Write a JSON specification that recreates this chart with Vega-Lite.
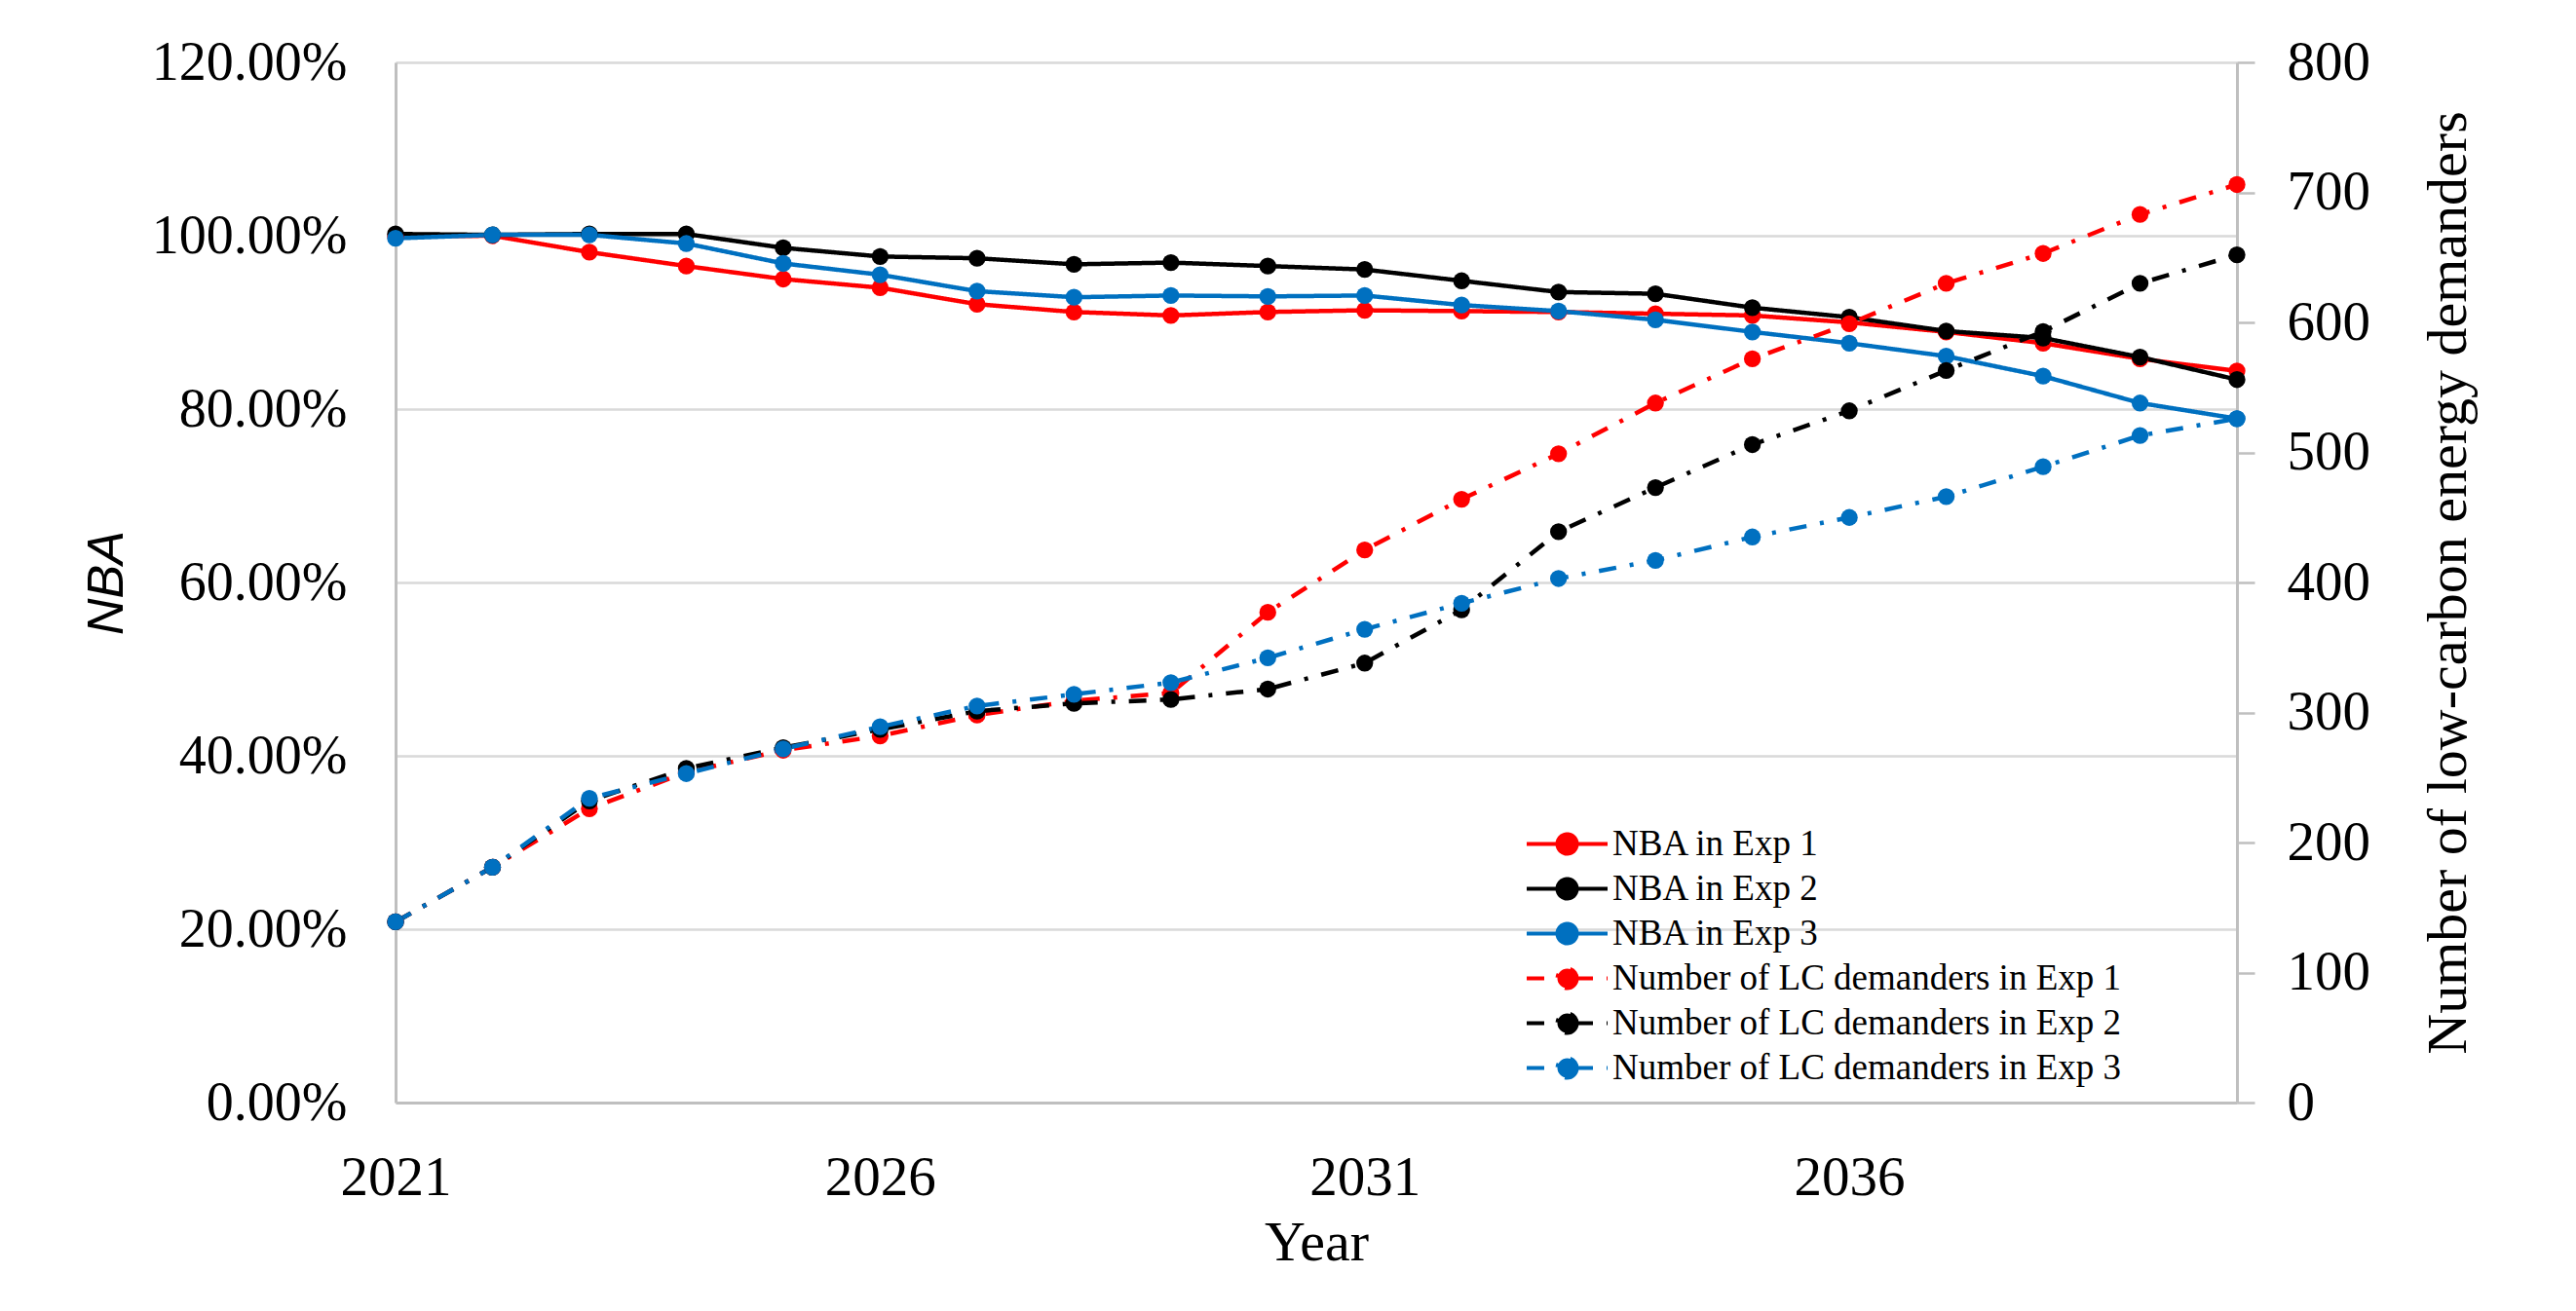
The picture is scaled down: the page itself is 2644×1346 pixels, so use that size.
{
  "$schema": "https://vega.github.io/schema/vega-lite/v6.json",
  "autosize": {"type": "none"},
  "padding": {"left": 406, "top": 64, "right": 348, "bottom": 214},
  "width": 1890,
  "height": 1068,
  "background": "white",
  "config": {
    "view": {"stroke": null},
    "font": "Liberation Serif",
    "axis": {"labelColor": "black", "titleColor": "black", "titleFontWeight": "normal"}
  },
  "data": {
    "values": [
      {"Year": 2021, "Series": "NBA in Exp 1", "Kind": "NBA", "Value": 0.999},
      {"Year": 2022, "Series": "NBA in Exp 1", "Kind": "NBA", "Value": 1.000},
      {"Year": 2023, "Series": "NBA in Exp 1", "Kind": "NBA", "Value": 0.981},
      {"Year": 2024, "Series": "NBA in Exp 1", "Kind": "NBA", "Value": 0.965},
      {"Year": 2025, "Series": "NBA in Exp 1", "Kind": "NBA", "Value": 0.950},
      {"Year": 2026, "Series": "NBA in Exp 1", "Kind": "NBA", "Value": 0.940},
      {"Year": 2027, "Series": "NBA in Exp 1", "Kind": "NBA", "Value": 0.921},
      {"Year": 2028, "Series": "NBA in Exp 1", "Kind": "NBA", "Value": 0.912},
      {"Year": 2029, "Series": "NBA in Exp 1", "Kind": "NBA", "Value": 0.908},
      {"Year": 2030, "Series": "NBA in Exp 1", "Kind": "NBA", "Value": 0.912},
      {"Year": 2031, "Series": "NBA in Exp 1", "Kind": "NBA", "Value": 0.914},
      {"Year": 2032, "Series": "NBA in Exp 1", "Kind": "NBA", "Value": 0.913},
      {"Year": 2033, "Series": "NBA in Exp 1", "Kind": "NBA", "Value": 0.912},
      {"Year": 2034, "Series": "NBA in Exp 1", "Kind": "NBA", "Value": 0.910},
      {"Year": 2035, "Series": "NBA in Exp 1", "Kind": "NBA", "Value": 0.908},
      {"Year": 2036, "Series": "NBA in Exp 1", "Kind": "NBA", "Value": 0.900},
      {"Year": 2037, "Series": "NBA in Exp 1", "Kind": "NBA", "Value": 0.889},
      {"Year": 2038, "Series": "NBA in Exp 1", "Kind": "NBA", "Value": 0.876},
      {"Year": 2039, "Series": "NBA in Exp 1", "Kind": "NBA", "Value": 0.858},
      {"Year": 2040, "Series": "NBA in Exp 1", "Kind": "NBA", "Value": 0.844},
      {"Year": 2021, "Series": "NBA in Exp 2", "Kind": "NBA", "Value": 1.002},
      {"Year": 2022, "Series": "NBA in Exp 2", "Kind": "NBA", "Value": 1.001},
      {"Year": 2023, "Series": "NBA in Exp 2", "Kind": "NBA", "Value": 1.002},
      {"Year": 2024, "Series": "NBA in Exp 2", "Kind": "NBA", "Value": 1.002},
      {"Year": 2025, "Series": "NBA in Exp 2", "Kind": "NBA", "Value": 0.986},
      {"Year": 2026, "Series": "NBA in Exp 2", "Kind": "NBA", "Value": 0.976},
      {"Year": 2027, "Series": "NBA in Exp 2", "Kind": "NBA", "Value": 0.974},
      {"Year": 2028, "Series": "NBA in Exp 2", "Kind": "NBA", "Value": 0.967},
      {"Year": 2029, "Series": "NBA in Exp 2", "Kind": "NBA", "Value": 0.969},
      {"Year": 2030, "Series": "NBA in Exp 2", "Kind": "NBA", "Value": 0.965},
      {"Year": 2031, "Series": "NBA in Exp 2", "Kind": "NBA", "Value": 0.961},
      {"Year": 2032, "Series": "NBA in Exp 2", "Kind": "NBA", "Value": 0.948},
      {"Year": 2033, "Series": "NBA in Exp 2", "Kind": "NBA", "Value": 0.935},
      {"Year": 2034, "Series": "NBA in Exp 2", "Kind": "NBA", "Value": 0.933},
      {"Year": 2035, "Series": "NBA in Exp 2", "Kind": "NBA", "Value": 0.917},
      {"Year": 2036, "Series": "NBA in Exp 2", "Kind": "NBA", "Value": 0.906},
      {"Year": 2037, "Series": "NBA in Exp 2", "Kind": "NBA", "Value": 0.890},
      {"Year": 2038, "Series": "NBA in Exp 2", "Kind": "NBA", "Value": 0.882},
      {"Year": 2039, "Series": "NBA in Exp 2", "Kind": "NBA", "Value": 0.860},
      {"Year": 2040, "Series": "NBA in Exp 2", "Kind": "NBA", "Value": 0.834},
      {"Year": 2021, "Series": "NBA in Exp 3", "Kind": "NBA", "Value": 0.997},
      {"Year": 2022, "Series": "NBA in Exp 3", "Kind": "NBA", "Value": 1.001},
      {"Year": 2023, "Series": "NBA in Exp 3", "Kind": "NBA", "Value": 1.001},
      {"Year": 2024, "Series": "NBA in Exp 3", "Kind": "NBA", "Value": 0.991},
      {"Year": 2025, "Series": "NBA in Exp 3", "Kind": "NBA", "Value": 0.968},
      {"Year": 2026, "Series": "NBA in Exp 3", "Kind": "NBA", "Value": 0.955},
      {"Year": 2027, "Series": "NBA in Exp 3", "Kind": "NBA", "Value": 0.936},
      {"Year": 2028, "Series": "NBA in Exp 3", "Kind": "NBA", "Value": 0.929},
      {"Year": 2029, "Series": "NBA in Exp 3", "Kind": "NBA", "Value": 0.931},
      {"Year": 2030, "Series": "NBA in Exp 3", "Kind": "NBA", "Value": 0.930},
      {"Year": 2031, "Series": "NBA in Exp 3", "Kind": "NBA", "Value": 0.931},
      {"Year": 2032, "Series": "NBA in Exp 3", "Kind": "NBA", "Value": 0.920},
      {"Year": 2033, "Series": "NBA in Exp 3", "Kind": "NBA", "Value": 0.913},
      {"Year": 2034, "Series": "NBA in Exp 3", "Kind": "NBA", "Value": 0.903},
      {"Year": 2035, "Series": "NBA in Exp 3", "Kind": "NBA", "Value": 0.889},
      {"Year": 2036, "Series": "NBA in Exp 3", "Kind": "NBA", "Value": 0.876},
      {"Year": 2037, "Series": "NBA in Exp 3", "Kind": "NBA", "Value": 0.861},
      {"Year": 2038, "Series": "NBA in Exp 3", "Kind": "NBA", "Value": 0.838},
      {"Year": 2039, "Series": "NBA in Exp 3", "Kind": "NBA", "Value": 0.807},
      {"Year": 2040, "Series": "NBA in Exp 3", "Kind": "NBA", "Value": 0.789},
      {"Year": 2021, "Series": "Number of LC demanders in Exp 1", "Kind": "LC", "Value": 139},
      {"Year": 2022, "Series": "Number of LC demanders in Exp 1", "Kind": "LC", "Value": 181},
      {"Year": 2023, "Series": "Number of LC demanders in Exp 1", "Kind": "LC", "Value": 226},
      {"Year": 2024, "Series": "Number of LC demanders in Exp 1", "Kind": "LC", "Value": 254},
      {"Year": 2025, "Series": "Number of LC demanders in Exp 1", "Kind": "LC", "Value": 271},
      {"Year": 2026, "Series": "Number of LC demanders in Exp 1", "Kind": "LC", "Value": 282},
      {"Year": 2027, "Series": "Number of LC demanders in Exp 1", "Kind": "LC", "Value": 298},
      {"Year": 2028, "Series": "Number of LC demanders in Exp 1", "Kind": "LC", "Value": 309},
      {"Year": 2029, "Series": "Number of LC demanders in Exp 1", "Kind": "LC", "Value": 315},
      {"Year": 2030, "Series": "Number of LC demanders in Exp 1", "Kind": "LC", "Value": 377},
      {"Year": 2031, "Series": "Number of LC demanders in Exp 1", "Kind": "LC", "Value": 425},
      {"Year": 2032, "Series": "Number of LC demanders in Exp 1", "Kind": "LC", "Value": 464},
      {"Year": 2033, "Series": "Number of LC demanders in Exp 1", "Kind": "LC", "Value": 499},
      {"Year": 2034, "Series": "Number of LC demanders in Exp 1", "Kind": "LC", "Value": 538},
      {"Year": 2035, "Series": "Number of LC demanders in Exp 1", "Kind": "LC", "Value": 572},
      {"Year": 2036, "Series": "Number of LC demanders in Exp 1", "Kind": "LC", "Value": 599},
      {"Year": 2037, "Series": "Number of LC demanders in Exp 1", "Kind": "LC", "Value": 630},
      {"Year": 2038, "Series": "Number of LC demanders in Exp 1", "Kind": "LC", "Value": 653},
      {"Year": 2039, "Series": "Number of LC demanders in Exp 1", "Kind": "LC", "Value": 683},
      {"Year": 2040, "Series": "Number of LC demanders in Exp 1", "Kind": "LC", "Value": 706},
      {"Year": 2021, "Series": "Number of LC demanders in Exp 2", "Kind": "LC", "Value": 139},
      {"Year": 2022, "Series": "Number of LC demanders in Exp 2", "Kind": "LC", "Value": 181},
      {"Year": 2023, "Series": "Number of LC demanders in Exp 2", "Kind": "LC", "Value": 232},
      {"Year": 2024, "Series": "Number of LC demanders in Exp 2", "Kind": "LC", "Value": 257},
      {"Year": 2025, "Series": "Number of LC demanders in Exp 2", "Kind": "LC", "Value": 273},
      {"Year": 2026, "Series": "Number of LC demanders in Exp 2", "Kind": "LC", "Value": 287},
      {"Year": 2027, "Series": "Number of LC demanders in Exp 2", "Kind": "LC", "Value": 301},
      {"Year": 2028, "Series": "Number of LC demanders in Exp 2", "Kind": "LC", "Value": 307},
      {"Year": 2029, "Series": "Number of LC demanders in Exp 2", "Kind": "LC", "Value": 310},
      {"Year": 2030, "Series": "Number of LC demanders in Exp 2", "Kind": "LC", "Value": 318},
      {"Year": 2031, "Series": "Number of LC demanders in Exp 2", "Kind": "LC", "Value": 338},
      {"Year": 2032, "Series": "Number of LC demanders in Exp 2", "Kind": "LC", "Value": 379},
      {"Year": 2033, "Series": "Number of LC demanders in Exp 2", "Kind": "LC", "Value": 439},
      {"Year": 2034, "Series": "Number of LC demanders in Exp 2", "Kind": "LC", "Value": 473},
      {"Year": 2035, "Series": "Number of LC demanders in Exp 2", "Kind": "LC", "Value": 506},
      {"Year": 2036, "Series": "Number of LC demanders in Exp 2", "Kind": "LC", "Value": 532},
      {"Year": 2037, "Series": "Number of LC demanders in Exp 2", "Kind": "LC", "Value": 563},
      {"Year": 2038, "Series": "Number of LC demanders in Exp 2", "Kind": "LC", "Value": 593},
      {"Year": 2039, "Series": "Number of LC demanders in Exp 2", "Kind": "LC", "Value": 630},
      {"Year": 2040, "Series": "Number of LC demanders in Exp 2", "Kind": "LC", "Value": 652},
      {"Year": 2021, "Series": "Number of LC demanders in Exp 3", "Kind": "LC", "Value": 139},
      {"Year": 2022, "Series": "Number of LC demanders in Exp 3", "Kind": "LC", "Value": 181},
      {"Year": 2023, "Series": "Number of LC demanders in Exp 3", "Kind": "LC", "Value": 234},
      {"Year": 2024, "Series": "Number of LC demanders in Exp 3", "Kind": "LC", "Value": 253},
      {"Year": 2025, "Series": "Number of LC demanders in Exp 3", "Kind": "LC", "Value": 272},
      {"Year": 2026, "Series": "Number of LC demanders in Exp 3", "Kind": "LC", "Value": 289},
      {"Year": 2027, "Series": "Number of LC demanders in Exp 3", "Kind": "LC", "Value": 305},
      {"Year": 2028, "Series": "Number of LC demanders in Exp 3", "Kind": "LC", "Value": 314},
      {"Year": 2029, "Series": "Number of LC demanders in Exp 3", "Kind": "LC", "Value": 323},
      {"Year": 2030, "Series": "Number of LC demanders in Exp 3", "Kind": "LC", "Value": 342},
      {"Year": 2031, "Series": "Number of LC demanders in Exp 3", "Kind": "LC", "Value": 364},
      {"Year": 2032, "Series": "Number of LC demanders in Exp 3", "Kind": "LC", "Value": 384},
      {"Year": 2033, "Series": "Number of LC demanders in Exp 3", "Kind": "LC", "Value": 403},
      {"Year": 2034, "Series": "Number of LC demanders in Exp 3", "Kind": "LC", "Value": 417},
      {"Year": 2035, "Series": "Number of LC demanders in Exp 3", "Kind": "LC", "Value": 435},
      {"Year": 2036, "Series": "Number of LC demanders in Exp 3", "Kind": "LC", "Value": 450},
      {"Year": 2037, "Series": "Number of LC demanders in Exp 3", "Kind": "LC", "Value": 466},
      {"Year": 2038, "Series": "Number of LC demanders in Exp 3", "Kind": "LC", "Value": 489},
      {"Year": 2039, "Series": "Number of LC demanders in Exp 3", "Kind": "LC", "Value": 513},
      {"Year": 2040, "Series": "Number of LC demanders in Exp 3", "Kind": "LC", "Value": 526}
    ]
  },
  "encoding": {
    "x": {
      "field": "Year",
      "type": "quantitative",
      "scale": {"domain": [2021, 2040], "nice": false, "zero": false},
      "axis": {
        "values": [2021, 2026, 2031, 2036],
        "format": "d",
        "grid": false,
        "ticks": false,
        "domainColor": "#BFBFBF",
        "domainWidth": 3,
        "labelFont": "Liberation Serif",
        "labelFontSize": 57,
        "labelPadding": 49,
        "labelFlush": false,
        "title": "Year",
        "titleFont": "Liberation Serif",
        "titleFontSize": 58,
        "titlePadding": 10
      }
    },
    "color": {
      "field": "Series",
      "type": "nominal",
      "scale": {
        "domain": ["NBA in Exp 1", "NBA in Exp 2", "NBA in Exp 3", "Number of LC demanders in Exp 1", "Number of LC demanders in Exp 2", "Number of LC demanders in Exp 3"],
        "range": ["#FF0000", "#000000", "#0070C0", "#FF0000", "#000000", "#0070C0"]
      },
      "legend": {
        "title": null,
        "orient": "none",
        "legendX": 1184,
        "legendY": 784,
        "padding": 0,
        "labelFont": "Liberation Serif",
        "labelFontSize": 37,
        "labelColor": "black",
        "labelLimit": 0,
        "labelOffset": 28,
        "rowPadding": 8,
        "symbolType": "M-4.15,0L4.15,0M1,0A1,1,0,1,1,-1,0A1,1,0,1,1,1,0Z",
        "symbolSize": 400,
        "symbolStrokeWidth": 4,
        "symbolOpacity": 1,
        "encode": {"symbols": {"update": {"fill": {"scale": "color", "field": "value"}, "opacity": {"value": 1}}}}
      }
    },
    "strokeDash": {
      "field": "Series",
      "type": "nominal",
      "scale": {
        "domain": ["NBA in Exp 1", "NBA in Exp 2", "NBA in Exp 3", "Number of LC demanders in Exp 1", "Number of LC demanders in Exp 2", "Number of LC demanders in Exp 3"],
        "range": [[1, 0], [1, 0], [1, 0], [18, 14, 4, 14], [18, 14, 4, 14], [18, 14, 4, 14]]
      },
      "legend": {
        "title": null,
        "orient": "none",
        "legendX": 1184,
        "legendY": 784,
        "padding": 0,
        "labelFont": "Liberation Serif",
        "labelFontSize": 37,
        "labelColor": "black",
        "labelLimit": 0,
        "labelOffset": 28,
        "rowPadding": 8,
        "symbolType": "M-4.15,0L4.15,0M1,0A1,1,0,1,1,-1,0A1,1,0,1,1,1,0Z",
        "symbolSize": 400,
        "symbolStrokeWidth": 4,
        "symbolOpacity": 1
      }
    }
  },
  "layer": [
    {
      "transform": [{"filter": "datum.Kind == 'NBA'"}],
      "mark": {"type": "line", "strokeWidth": 4.5, "point": {"filled": true, "size": 300, "opacity": 1}},
      "encoding": {
        "y": {
          "field": "Value",
          "type": "quantitative",
          "scale": {"domain": [0, 1.2], "nice": false},
          "axis": {
            "orient": "left",
            "values": [0, 0.2, 0.4, 0.6, 0.8, 1, 1.2],
            "format": ".2%",
            "grid": true,
            "gridColor": "#D9D9D9",
            "gridWidth": 2.5,
            "ticks": false,
            "domainColor": "#BFBFBF",
            "domainWidth": 3,
            "labelFont": "Liberation Serif",
            "labelFontSize": 56,
            "labelPadding": 50,
            "labelLimit": 0,
            "labelFlush": false,
            "title": "NBA",
            "titleFont": "Liberation Sans",
            "titleFontStyle": "italic",
            "titleFontSize": 52,
            "titlePadding": 70
          }
        }
      }
    },
    {
      "transform": [{"filter": "datum.Kind == 'LC'"}],
      "mark": {"type": "line", "strokeWidth": 4.5, "point": {"filled": true, "size": 300, "opacity": 1}},
      "encoding": {
        "y": {
          "field": "Value",
          "type": "quantitative",
          "scale": {"domain": [0, 800], "nice": false},
          "axis": {
            "orient": "right",
            "values": [0, 100, 200, 300, 400, 500, 600, 700, 800],
            "grid": false,
            "ticks": true,
            "tickSize": 18,
            "tickColor": "#BFBFBF",
            "tickWidth": 2.5,
            "domainColor": "#BFBFBF",
            "domainWidth": 3,
            "labelFont": "Liberation Serif",
            "labelFontSize": 57,
            "labelPadding": 33,
            "labelLimit": 0,
            "labelFlush": false,
            "title": "Number of low-carbon energy demanders",
            "titleFont": "Liberation Serif",
            "titleFontSize": 58,
            "titleAngle": 270,
            "titlePadding": 110
          }
        }
      }
    }
  ],
  "resolve": {"scale": {"y": "independent"}}
}
